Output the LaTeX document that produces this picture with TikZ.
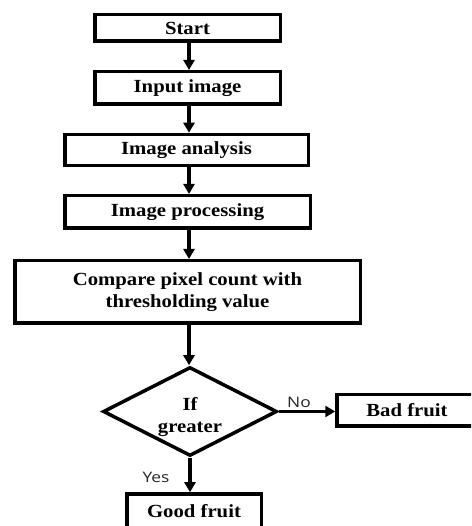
\documentclass[tikz,border=0pt]{standalone}
\usepackage{fontspec}
\setmainfont[FakeStretch=1.12]{Liberation Serif}
\newfontfamily\lblfont[FakeStretch=1.2]{Open Sans}
\usetikzlibrary{shapes.geometric,arrows.meta}
\begin{document}
\begin{tikzpicture}[x=1pt,y=1pt,
  box/.style={draw, line width=3.5pt, rectangle, inner sep=0pt, align=center,
    font=\fontsize{18.5}{22}\selectfont\bfseries},
  decide/.style={draw, line width=3.5pt, diamond, aspect=2, inner sep=0pt, align=center,
    minimum width=174pt, minimum height=89pt,
    font=\fontsize{18.5}{22}\selectfont\bfseries},
  flow/.style={line width=3.2pt, -{Triangle[length=10pt,width=11pt]}},
  lbl/.style={font=\lblfont\fontsize{14.5}{16}\selectfont, text=black!85}]
\useasboundingbox (0,0) rectangle (471,526);
\clip (0,0) rectangle (471,526);
\node[box, minimum width=185.5pt, minimum height=26.5pt] (start) at (187.5,498) {Start};
\node[box, minimum width=185.5pt, minimum height=32.5pt] (input) at (187.5,438) {Input image};
\node[box, minimum width=243.5pt, minimum height=31pt] (analysis) at (186.5,376) {Image analysis};
\node[box, minimum width=245.5pt, minimum height=32.5pt] (proc) at (187.5,314) {Image processing};
\node[box, minimum width=345.5pt, minimum height=62.5pt] (cmp) at (187.5,234) {Compare pixel count with\\thresholding value};
\node[decide] (dec) at (190,114.5) {\raisebox{-10pt}[0pt][0pt]{\parbox{80pt}{\centering If\\greater}}};
\node[box, minimum width=150pt, minimum height=31.5pt] (bad) at (412,115.5) {\hspace*{-10pt}Bad fruit};
\node[box, minimum width=134.5pt, minimum height=36pt] (good) at (194,14) {\raisebox{2pt}{Good fruit}};
\coordinate (ax) at (189,0);
\draw[flow] (start.south -| ax) -- (input.north -| ax);
\draw[flow] (input.south -| ax) -- (analysis.north -| ax);
\draw[flow] (analysis.south -| ax) -- (proc.north -| ax);
\draw[flow] (proc.south -| ax) -- (cmp.north -| ax);
\draw[flow] (cmp.south -| ax) -- (dec.north -| ax);
\draw[flow] (dec.east) -- (bad.west |- dec.east);
\draw[flow] (dec.south) -- (good.north -| dec.south);
\node[lbl] (no) at (299,124) {No};
\node[lbl] (yes) at (156,49) {Yes};
\end{tikzpicture}
\end{document}
